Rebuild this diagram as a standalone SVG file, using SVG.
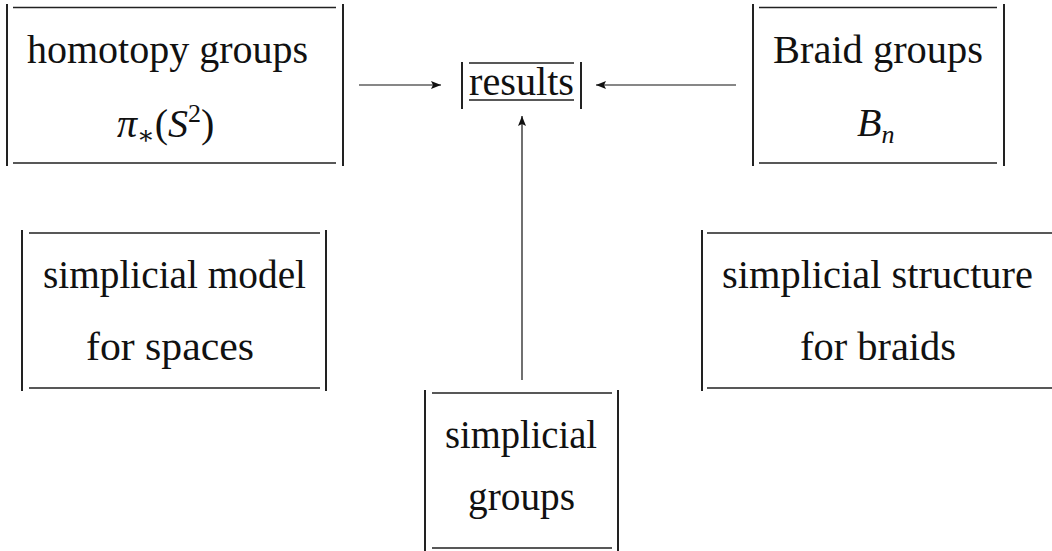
<svg xmlns="http://www.w3.org/2000/svg" width="1052" height="551" viewBox="0 0 1052 551">
<style>
.bar{stroke:#222;stroke-width:2;fill:none}
.hl{stroke:#222;stroke-width:1.6;fill:none}
text{font-size:40px;fill:#111}
.i{font-style:italic}
.conn{stroke:#111;stroke-width:1.2;fill:none;marker-end:url(#ah)}
</style>
<defs>
<marker id="ah" viewBox="0 0 10 8" refX="10" refY="4" markerWidth="10" markerHeight="8" markerUnits="userSpaceOnUse" orient="auto">
<path d="M0,0 L10,4 L0,8 L2,4 Z" fill="#111"/>
</marker>
</defs>
<rect width="1052" height="551" fill="#fff"/>
<g font-family="Liberation Serif, DejaVu Serif, serif">
<g id="homotopy">
<path class="bar" d="M7,4V166M343,4V166"/>
<path class="hl" d="M13,7.5H336M13,163H336"/>
<text x="27" y="63" textLength="281" lengthAdjust="spacingAndGlyphs">homotopy groups</text>
<text x="117" y="137"><tspan class="i">π</tspan><tspan font-size="26" dy="7">∗</tspan><tspan dy="-7">(</tspan><tspan class="i">S</tspan><tspan font-size="26" dy="-15">2</tspan><tspan dy="15">)</tspan></text>
</g>
<g id="results">
<path class="bar" d="M462,62V109M581,62V109"/>
<path class="hl" d="M469,63H574M469,100H574"/>
<text x="469" y="95" textLength="105" lengthAdjust="spacingAndGlyphs">results</text>
</g>
<g id="braid">
<path class="bar" d="M753,4V166M1004,4V166"/>
<path class="hl" d="M759,7.5H997M759,163H997"/>
<text x="773" y="63" textLength="210" lengthAdjust="spacingAndGlyphs">Braid groups</text>
<text x="857" y="136"><tspan class="i">B</tspan><tspan class="i" font-size="26" dy="7">n</tspan></text>
</g>
<g id="model">
<path class="bar" d="M22,230V391M326,230V391"/>
<path class="hl" d="M29,233H320M29,388H320"/>
<text x="43" y="288" textLength="263" lengthAdjust="spacingAndGlyphs">simplicial model</text>
<text x="86" y="360" textLength="168" lengthAdjust="spacingAndGlyphs">for spaces</text>
</g>
<g id="structure">
<path class="bar" d="M702,230V391M1053,230V391"/>
<path class="hl" d="M707,233H1052M707,388H1052"/>
<text x="722" y="288" textLength="311" lengthAdjust="spacingAndGlyphs">simplicial structure</text>
<text x="800" y="360" textLength="156" lengthAdjust="spacingAndGlyphs">for braids</text>
</g>
<g id="sgroups">
<path class="bar" d="M425,390V551M618,390V551"/>
<path class="hl" d="M432,393H612M432,548H612"/>
<text x="445" y="448" textLength="152" lengthAdjust="spacingAndGlyphs">simplicial</text>
<text x="468" y="510" textLength="107" lengthAdjust="spacingAndGlyphs">groups</text>
</g>
</g>
<g id="connectors">
<path class="conn" d="M359,85H441"/>
<path class="conn" d="M736,85H596"/>
<path class="conn" d="M522,380V116"/>
</g>
</svg>
